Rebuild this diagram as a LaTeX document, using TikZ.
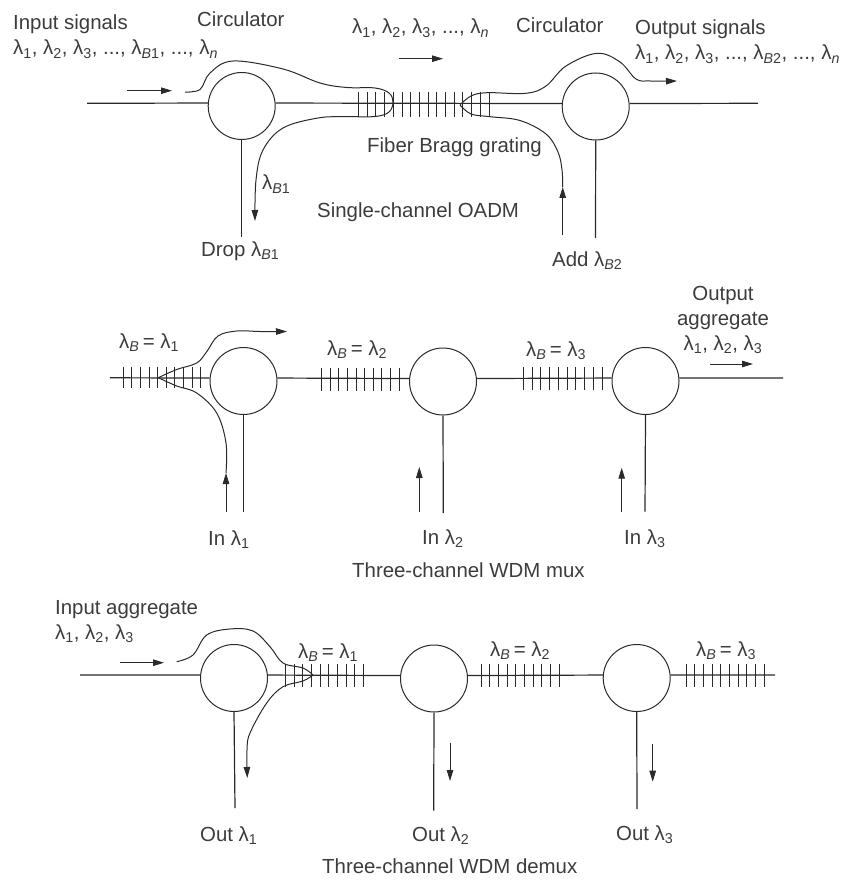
\documentclass[tikz,border=0pt]{standalone}
\usepackage{fontspec}
\setmainfont{Liberation Sans}
\usetikzlibrary{arrows.meta,positioning}
\definecolor{fiberdark}{HTML}{2A2A2A}
\definecolor{labelgray}{HTML}{3C3C3C}
\newcommand{\lam}[1]{λ\textsubscript{#1}}

\begin{document}
\begin{tikzpicture}[
  x=1pt, y=-1pt,
  circ/.style={draw=fiberdark, circle, minimum size=67pt, inner sep=0pt, line width=1pt},
  fiber/.style={draw=fiberdark, line width=1.2pt},
  bragg/.style={draw=fiberdark, line width=1pt},
  signal/.style={draw=fiberdark, line width=1pt},
  arrow/.style={-{Triangle[length=11pt, width=6.5pt]}, draw=fiberdark, line width=1pt},
  lbl/.style={font=\fontsize{20.4}{25}\selectfont, text=labelgray, inner sep=0pt, anchor=base west},
]
\useasboundingbox (0,0) rectangle (847,882);

% Single-channel OADM
\node[circ] (circA) at (241.7,106) {};
\node[circ] (circB) at (595.7,106.5) {};
\coordinate (oadmIn) at (87,103.3);
\coordinate (oadmOut) at (758,103.3);
\coordinate (dropEnd) at (241.7,237);
\coordinate (addEnd) at (595.5,238);
\draw[fiber] (oadmIn) -- (circA.175);
\draw[fiber] (circA.5) -- (circB.175);
\draw[fiber] (circB.5) -- (oadmOut);
\draw[fiber] (circA.south) -- (dropEnd);
\draw[fiber] (circB.south) -- (addEnd);
\foreach \i in {0,...,15}
  \draw[bragg] ({358.5+8.7*\i},91.7) -- ({358.5+8.7*\i},116.7);

\coordinate (inTail) at (127,90.7);
\coordinate (inTip) at (172,90.7);
\coordinate (midTail) at (399,58.7);
\coordinate (midTip) at (443,58.7);
\coordinate (curveA) at (185,92);
\coordinate (dropTip) at (255,221);
\coordinate (tipB) at (460,105);
\coordinate (outTip) at (677,81);
\coordinate (addTail) at (562.7,235);
\coordinate (addTip) at (562.7,187);
\draw[arrow] (inTail) -- (inTip);
\draw[arrow] (midTail) -- (midTip);
\draw[arrow] (addTail) -- (addTip);
\draw[signal, arrow] plot[smooth, tension=0.6] coordinates {(curveA) (200,89.5) (210,73) (233,61) (283,69) (320,83) (347,87.5) (375,88) (389,93) (393,102) (389,112) (375,116.5) (345,116.7) (318,118) (283,128) (263,150) (256,180) (dropTip)};
\draw[signal, arrow] plot[smooth, tension=0.6] coordinates {(tipB) (471,96) (487,92.7) (526,93.3) (546,86) (566,66) (597,53.3) (620,62) (636,79) (650,81) (outTip)};
\draw[signal] plot[smooth, tension=0.6] coordinates {(tipB) (471,114) (490,116.7) (520,120.5) (546,134) (558,152) (562,170) (addTip)};

\node[lbl, align=left] (inputSig) at (13,55) {Input signals\\\lam{1}, \lam{2}, \lam{3}, ..., \lam{\textit{B}1}, ..., \lam{\textit{n}}};
\node[lbl] (circLblA) at (197,26.7) {Circulator};
\node[lbl] (midSig) at (352,34) {\lam{1}, \lam{2}, \lam{3}, ..., \lam{\textit{n}}};
\node[lbl] (circLblB) at (516,33) {Circulator};
\node[lbl, align=left] (outputSig) at (635,60) {Output signals\\\lam{1}, \lam{2}, \lam{3}, ..., \lam{\textit{B}2}, ..., \lam{\textit{n}}};
\node[lbl] (braggLbl) at (367,152.7) {Fiber Bragg grating};
\node[lbl] (oadmLbl) at (317,218) {Single-channel OADM};
\node[lbl] (dropSig) at (262,190) {\lam{\textit{B}1}};
\node[lbl] (dropLbl) at (201,256.7) {Drop \lam{\textit{B}1}};
\node[lbl] (addLbl) at (552,266) {Add \lam{\textit{B}2}};

% Three-channel WDM mux
\node[circ] (circC) at (243.5,381) {};
\node[circ] (circD) at (443,381.5) {};
\node[circ] (circE) at (645.5,381) {};
\coordinate (muxIn) at (110,377.8);
\coordinate (muxOut) at (783,378);
\coordinate (inOneEnd) at (243.5,511.7);
\coordinate (inTwoEnd) at (443.3,513);
\coordinate (inThreeEnd) at (645,511.7);
\draw[fiber] (muxIn) -- (circC.175);
\draw[fiber] (circC.5) -- (circD.175);
\draw[fiber] (circD.5) -- (circE.175);
\draw[fiber] (circE.5) -- (muxOut);
\draw[fiber] (circC.south) -- (inOneEnd);
\draw[fiber] (circD.south) -- (inTwoEnd);
\draw[fiber] (circE.south) -- (inThreeEnd);
\foreach \i in {0,...,9} {
  \draw[bragg] ({123.3+8.6*\i},366.7) -- ({123.3+8.6*\i},388.3);
  \draw[bragg] ({321.7+8.6*\i},368) -- ({321.7+8.6*\i},390.7);
  \draw[bragg] ({523.3+8.78*\i},367) -- ({523.3+8.78*\i},390);
}

\coordinate (tipC) at (158.3,377.7);
\coordinate (muxTip) at (287,331.5);
\coordinate (inOneTail) at (226,511.7);
\coordinate (inOneTip) at (226,473);
\coordinate (inTwoTail) at (419.3,512);
\coordinate (inTwoTip) at (419.3,467);
\coordinate (inThreeTail) at (621.7,511.7);
\coordinate (inThreeTip) at (621.7,467.7);
\coordinate (aggTail) at (710,364);
\coordinate (aggTip) at (753,364);
\draw[arrow] (inOneTail) -- (inOneTip);
\draw[arrow] (inTwoTail) -- (inTwoTip);
\draw[arrow] (inThreeTail) -- (inThreeTip);
\draw[arrow] (aggTail) -- (aggTip);
\draw[signal, arrow] plot[smooth, tension=0.6] coordinates {(tipC) (176.7,369.5) (196.7,363) (206.7,351.7) (218,336) (236.7,331) (260,331.5) (muxTip)};
\draw[signal] plot[smooth, tension=0.6] coordinates {(tipC) (176.7,386) (196.7,393) (216.7,413) (226,443) (inOneTip)};

\node[lbl] (lamCLbl) at (119,348) {\lam{\textit{B}}\,= \lam{1}};
\node[lbl] (lamDLbl) at (327,355) {\lam{\textit{B}}\,= \lam{2}};
\node[lbl] (lamELbl) at (526,356) {\lam{\textit{B}}\,= \lam{3}};
\node[lbl, anchor=base, align=center] (aggLbl) at (723,350) {Output\\aggregate\\\lam{1}, \lam{2}, \lam{3}};
\node[lbl] (inOneLbl) at (208,545.7) {In \lam{1}};
\node[lbl] (inTwoLbl) at (422,544.3) {In \lam{2}};
\node[lbl] (inThreeLbl) at (624,544.3) {In \lam{3}};
\node[lbl] (muxLbl) at (352,577.7) {Three-channel WDM mux};

% Three-channel WDM demux
\node[circ] (circF) at (234,678) {};
\node[circ] (circG) at (434,678.5) {};
\node[circ] (circH) at (636.7,678) {};
\coordinate (demuxIn) at (80,675);
\coordinate (demuxOut) at (775,675);
\coordinate (outOneEnd) at (235,808);
\coordinate (outTwoEnd) at (433.7,810.5);
\coordinate (outThreeEnd) at (637,809);
\draw[fiber] (demuxIn) -- (circF.175);
\draw[fiber] (circF.5) -- (circG.175);
\draw[fiber] (circG.5) -- (circH.175);
\draw[fiber] (circH.5) -- (demuxOut);
\draw[fiber] (circF.south) -- (outOneEnd);
\draw[fiber] (circG.south) -- (outTwoEnd);
\draw[fiber] (circH.south) -- (outThreeEnd);
\foreach \i in {0,...,9} {
  \draw[bragg] ({285.7+8.62*\i},664) -- ({285.7+8.62*\i},687);
  \draw[bragg] ({481+8.7*\i},664) -- ({481+8.7*\i},687.3);
  \draw[bragg] ({686+8.67*\i},664) -- ({686+8.67*\i},687.3);
}

\coordinate (aggInTail) at (120,662.7);
\coordinate (aggInTip) at (164,662.7);
\coordinate (curveF) at (176.7,661.7);
\coordinate (tipF) at (313,675);
\coordinate (outOneTip) at (247.3,778);
\coordinate (outTwoTail) at (450,742.7);
\coordinate (outTwoTip) at (450,781);
\coordinate (outThreeTail) at (652.7,744);
\coordinate (outThreeTip) at (652.7,781.7);
\draw[arrow] (aggInTail) -- (aggInTip);
\draw[arrow] (outTwoTail) -- (outTwoTip);
\draw[arrow] (outThreeTail) -- (outThreeTip);
\draw[signal] plot[smooth, tension=0.6] coordinates {(curveF) (193,655) (206.7,635) (230,629) (253,631) (270,646.7) (283,663) (303,668) (tipF)};
\draw[signal, arrow] plot[smooth, tension=0.6] coordinates {(tipF) (303,681) (283,686.7) (266.7,703) (250,733) (247,750) (outOneTip)};

\node[lbl, align=left] (aggInLbl) at (55,639) {Input aggregate\\\lam{1}, \lam{2}, \lam{3}};
\node[lbl] (lamFLbl) at (298,658) {\lam{\textit{B}}\,= \lam{1}};
\node[lbl] (lamGLbl) at (490,656.7) {\lam{\textit{B}}\,= \lam{2}};
\node[lbl] (lamHLbl) at (696,656.7) {\lam{\textit{B}}\,= \lam{3}};
\node[lbl] (outOneLbl) at (200,841.7) {Out \lam{1}};
\node[lbl] (outTwoLbl) at (412,841.7) {Out \lam{2}};
\node[lbl] (outThreeLbl) at (616,840) {Out \lam{3}};
\node[lbl] (demuxLbl) at (322,873) {Three-channel WDM demux};

\end{tikzpicture}
\end{document}
